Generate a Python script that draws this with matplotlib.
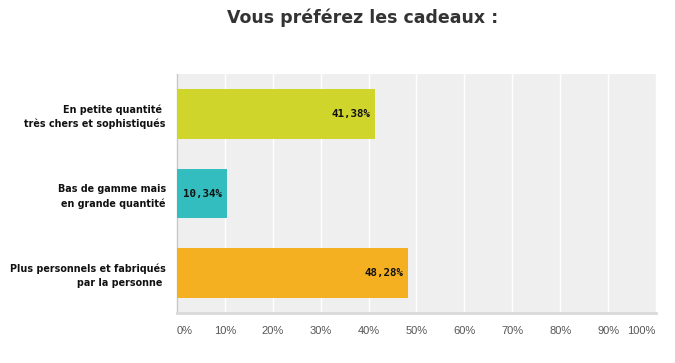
import matplotlib.pyplot as plt
import numpy as np

# data
categories = ["En petite quantité \ntrès chers et sophistiqués",
              "Bas de gamme mais\nen grande quantité",
              "Plus personnels et fabriqués\npar la personne "]
values = [41.38, 10.34, 48.28]
colors = ["#cfd52a", "#33bdbf", "#f5b021"]
ticks = [0, 10, 20, 30, 40, 50, 60, 70, 80, 90, 100]
tick_labels = [f"{t}%" for t in ticks]

fig = plt.figure(figsize=(6.75, 3.63), dpi=100)
ax = fig.add_axes([0.2622, 0.1377, 0.7096, 0.6584])
ax.set_facecolor("#efefef")

y_pos = np.arange(len(categories))
ax.barh(y_pos, values, height=0.625, color=colors, zorder=3)

ax.set_xlim(0, 100)
ax.set_ylim(2.5, -0.5)

ax.set_xticks(ticks)
ax.set_xticklabels(tick_labels, fontsize=8, color="#555555", family="Liberation Sans")
xl = ax.get_xticklabels()
xl[0].set_ha("left")
xl[-1].set_ha("right")
ax.tick_params(axis="x", length=0, pad=9)
ax.grid(axis="x", color="white", linewidth=1, zorder=1)

ax.set_yticks(y_pos)
ax.set_yticklabels(categories, fontsize=6.9, fontweight="bold", color="#111111",
                   linespacing=1.45)
ax.tick_params(axis="y", length=0, pad=8)

for s in ["top", "right"]:
    ax.spines[s].set_visible(False)
ax.spines["left"].set_color("#c8c8c8")
ax.spines["left"].set_linewidth(1)
ax.spines["bottom"].set_color("#d9d9d9")
ax.spines["bottom"].set_linewidth(2)

for y, v in zip(y_pos, values):
    ax.text(v - 0.9, y, f"{v:.2f}%".replace(".", ","), ha="right", va="center",
            fontsize=7.8, fontweight="bold", family="DejaVu Sans Mono",
            color="#111111", zorder=4)

fig.text(0.537, 0.95, "Vous préférez les cadeaux :", ha="center", va="center",
         fontsize=12.5, fontweight="bold", color="#333333")

fig.savefig("out.png", dpi=100)
